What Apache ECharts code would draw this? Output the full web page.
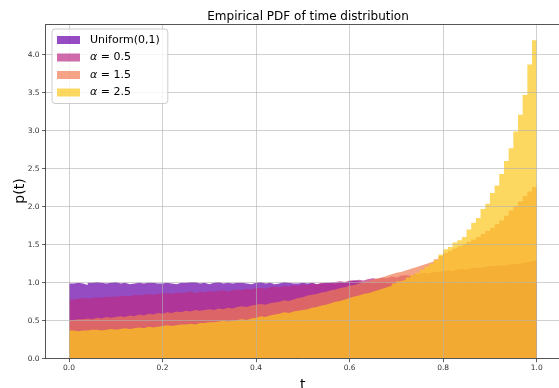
<!DOCTYPE html>
<html>
<head>
<meta charset="utf-8">
<script src="https://cdn.jsdelivr.net/npm/echarts@6/dist/echarts.min.js"></script>
<style>
  html, body { margin: 0; padding: 0; background: #fff; }
  #chart { width: 559px; height: 388px; }
</style>
</head>
<body>
<div id="chart"></div>
<script>
// Histogram of sampled times, 100 equal bins on [0, 1]
const binCount = 100;
const binEdges = Array.from({ length: binCount + 1 }, (_, i) => i / binCount);

const seriesNames = ['Uniform(0,1)', 'α = 0.5', 'α = 1.5', 'α = 2.5'];

// Density per bin
const densUniform = [
  0.99,1.00,0.99,0.97,1.00,1.01,1.00,0.99,1.00,1.01,
  0.99,1.00,0.98,0.99,1.00,0.99,1.00,1.00,0.99,0.99,
  1.00,0.99,0.98,1.00,1.00,1.01,1.01,0.99,1.00,0.98,
  1.00,1.01,0.99,1.00,0.99,1.00,1.00,0.99,0.98,1.00,
  1.01,0.99,1.00,0.98,0.99,1.01,1.00,0.99,0.99,1.00,
  0.99,1.00,0.98,0.99,1.00,1.00,0.99,1.01,1.00,1.02,
  1.03,1.02,1.00,1.01,0.99,1.00,1.01,0.99,1.00,0.98,
  1.00,0.99,1.01,1.00,0.99,1.00,1.01,1.00,0.99,1.00,
  0.99,1.01,1.00,0.99,1.00,1.00,0.98,1.00,1.01,0.99,
  1.00,1.00,0.99,1.01,1.00,0.99,1.00,1.00,0.99,1.00
];
const densAlpha05 = [
  0.78,0.79,0.80,0.79,0.80,0.81,0.80,0.82,0.81,0.82,
  0.82,0.83,0.82,0.84,0.83,0.84,0.85,0.84,0.85,0.86,
  0.86,0.85,0.87,0.86,0.87,0.88,0.86,0.88,0.87,0.89,
  0.88,0.89,0.90,0.88,0.90,0.91,0.90,0.92,0.91,0.93,
  0.93,0.92,0.94,0.95,0.94,0.96,0.95,0.97,0.96,0.98,
  0.97,0.99,0.98,1.00,0.99,1.00,1.01,1.02,1.01,1.03,
  1.03,1.04,1.03,1.05,1.06,1.05,1.07,1.06,1.08,1.07,
  1.09,1.10,1.09,1.11,1.12,1.13,1.12,1.14,1.14,1.15,
  1.16,1.15,1.17,1.18,1.17,1.19,1.20,1.19,1.21,1.22,
  1.22,1.23,1.22,1.24,1.25,1.24,1.26,1.27,1.28,1.30
];
const densAlpha15 = [
  0.51,0.52,0.52,0.53,0.52,0.54,0.53,0.55,0.54,0.55,
  0.56,0.55,0.57,0.56,0.58,0.57,0.59,0.58,0.60,0.59,
  0.61,0.60,0.62,0.61,0.63,0.62,0.64,0.63,0.64,0.65,
  0.64,0.66,0.65,0.67,0.66,0.68,0.69,0.68,0.70,0.71,
  0.72,0.71,0.73,0.74,0.75,0.77,0.76,0.78,0.80,0.81,
  0.83,0.84,0.85,0.87,0.88,0.90,0.91,0.93,0.94,0.96,
  0.97,0.99,1.01,1.02,1.04,1.06,1.07,1.09,1.11,1.13,
  1.14,1.16,1.18,1.20,1.22,1.24,1.26,1.28,1.31,1.35,
  1.39,1.42,1.45,1.48,1.51,1.54,1.57,1.60,1.64,1.68,
  1.72,1.77,1.82,1.88,1.95,2.01,2.07,2.14,2.20,2.26
];
const densAlpha25 = [
  0.37,0.36,0.37,0.37,0.38,0.38,0.37,0.38,0.39,0.38,
  0.39,0.40,0.39,0.40,0.41,0.40,0.42,0.41,0.42,0.43,
  0.44,0.43,0.44,0.45,0.45,0.46,0.45,0.47,0.47,0.48,
  0.48,0.49,0.50,0.49,0.50,0.51,0.52,0.51,0.53,0.54,
  0.56,0.55,0.57,0.58,0.59,0.61,0.60,0.62,0.63,0.64,
  0.65,0.67,0.68,0.70,0.71,0.73,0.75,0.76,0.78,0.80,
  0.82,0.83,0.85,0.86,0.88,0.90,0.92,0.94,0.96,0.99,
  1.02,1.04,1.07,1.10,1.13,1.17,1.21,1.25,1.30,1.37,
  1.44,1.47,1.53,1.56,1.60,1.70,1.79,1.85,1.97,2.04,
  2.18,2.28,2.43,2.60,2.77,2.99,3.21,3.47,3.87,4.19
];

const xTicks = [0.0, 0.2, 0.4, 0.6, 0.8, 1.0];
const yTicks = [0.0, 0.5, 1.0, 1.5, 2.0, 2.5, 3.0, 3.5, 4.0];

const baseColors = [
  [104, 0, 170],
  [186, 44, 134],
  [239, 124, 82],
  [252, 200, 30]
];
const fillAlpha = 0.7;
const rgba = (c, a) => `rgba(${c[0]},${c[1]},${c[2]},${a})`;

// Stepped outline: each bin holds its height until the next edge
function stepPoints(heights) {
  const pts = heights.map((h, i) => [binEdges[i], h]);
  pts.push([binEdges[binCount], heights[heights.length - 1]]);
  return pts;
}

const allDens = [densUniform, densAlpha05, densAlpha15, densAlpha25];

const FONT = 'DejaVu Sans';
const spineColor = '#555';
const gridColor = 'rgba(176,176,176,0.6)';

const chart = echarts.init(document.getElementById('chart'), null, { renderer: 'canvas' });

chart.setOption({
  animation: false,
  backgroundColor: '#fff',
  title: {
    text: 'Empirical PDF of time distribution',
    left: 303,
    top: 6,
    textAlign: 'center',
    textStyle: { fontFamily: FONT, fontSize: 12, fontWeight: 'normal', color: '#000' }
  },
  // vertical axis title
  graphic: [{
    type: 'text',
    x: 20,
    y: 191,
    rotation: Math.PI / 2,
    style: {
      text: 'p(t)',
      fontFamily: FONT,
      fontSize: 14,
      fill: '#000',
      align: 'center',
      verticalAlign: 'middle'
    }
  }],
  legend: {
    orient: 'vertical',
    left: 52,
    top: 29,
    padding: [4, 8, 4, 5],
    itemGap: 3.5,
    itemWidth: 23,
    itemHeight: 8,
    icon: 'rect',
    backgroundColor: 'rgba(255,255,255,0.8)',
    borderColor: '#cccccc',
    borderWidth: 1,
    borderRadius: 3,
    selectedMode: false,
    data: seriesNames.map((n, i) => ({
      name: n,
      itemStyle: { color: rgba(baseColors[i], fillAlpha) }
    })),
    formatter: (name) => name.replace('α', '{g|α}'),
    textStyle: {
      fontFamily: FONT,
      fontSize: 11,
      color: '#000',
      lineHeight: 14,
      padding: [0, 0, 0, 5],
      rich: {
        g: { fontFamily: FONT, fontSize: 11, fontStyle: 'italic', color: '#000' }
      }
    }
  },
  grid: {
    left: 45.6,
    top: 24.3,
    width: 514.5,
    bottom: 29.3,
    containLabel: false,
    outerBoundsMode: 'none'
  },
  xAxis: [
    {
      type: 'value',
      min: -0.05,
      max: 1.05,
      z: 3,
      name: 't',
      nameLocation: 'middle',
      nameGap: 20,
      nameTextStyle: { fontFamily: FONT, fontSize: 14, color: '#000' },
      axisLine: { show: true, onZero: false, lineStyle: { color: spineColor, width: 1 } },
      axisTick: { show: true, length: 3.5, customValues: xTicks, lineStyle: { color: '#333', width: 0.8 } },
      axisLabel: {
        customValues: xTicks,
        formatter: (v) => v.toFixed(1),
        fontFamily: FONT, fontSize: 7.5, color: '#333', margin: 5
      },
      splitLine: { show: true, lineStyle: { color: gridColor, width: 1 } }
    },
    {
      type: 'value',
      position: 'top',
      min: -0.05,
      max: 1.05,
      z: 3,
      axisLine: { show: true, onZero: false, lineStyle: { color: spineColor, width: 1 } },
      axisTick: { show: false },
      axisLabel: { show: false },
      splitLine: { show: false }
    }
  ],
  yAxis: {
    type: 'value',
    min: 0,
    max: 4.4,
    z: 3,
    axisLine: { show: true, onZero: false, lineStyle: { color: spineColor, width: 1 } },
    axisTick: { show: true, length: 3.5, customValues: yTicks, lineStyle: { color: '#333', width: 0.8 } },
    axisLabel: {
      customValues: yTicks,
      formatter: (v) => v.toFixed(1),
      fontFamily: FONT, fontSize: 7.5, color: '#333', margin: 6
    },
    splitLine: { show: true, lineStyle: { color: gridColor, width: 1 } }
  },
  series: allDens.map((d, i) => ({
    name: seriesNames[i],
    type: 'line',
    step: 'end',
    xAxisIndex: 0,
    data: stepPoints(d),
    showSymbol: false,
    symbol: 'none',
    silent: true,
    z: 2,
    color: rgba(baseColors[i], fillAlpha),
    lineStyle: { width: 0, opacity: 0 },
    areaStyle: { color: rgba(baseColors[i], fillAlpha), opacity: 1 },
    emphasis: { disabled: true }
  }))
});
</script>
</body>
</html>
